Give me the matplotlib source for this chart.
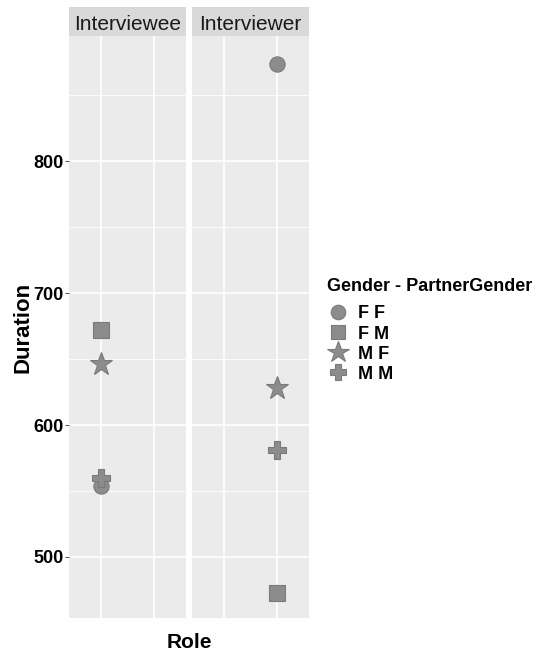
import numpy as np
import matplotlib
matplotlib.use('Agg')
import matplotlib.pyplot as plt
from matplotlib.lines import Line2D
from matplotlib.patches import Rectangle

plt.rcParams['font.family'] = ['Liberation Sans', 'DejaVu Sans']

# ---------- data ----------
roles = ['Interviewee', 'Interviewer']
groups = ['F F', 'F M', 'M F', 'M M']
interviewee_duration = [554, 672, 646, 560]
interviewer_duration = [874, 473, 628, 581]
y_ticks = [500, 600, 700, 800]
y_minor = [450, 550, 650, 750, 850]

markers = ['o', 's', '*', 'P']
msizes = [11, 11, 17, 12.5]
pt_color = '#8c8c8c'
edge_color = '#7a7a7a'

W, H = 540, 656
fig = plt.figure(figsize=(W / 100, H / 100), dpi=100)
fig.patch.set_facecolor('white')


def px_axes(x0, y0, x1, y1):
    return fig.add_axes([x0 / W, 1 - y1 / H, (x1 - x0) / W, (y1 - y0) / H])


panel_x = [(69, 186), (192, 309)]
panel_top, panel_bot, strip_top = 36, 618, 7
values = [interviewee_duration, interviewer_duration]

for i, role in enumerate(roles):
    x0, x1 = panel_x[i]
    ax = px_axes(x0, panel_top, x1, panel_bot)
    ax.set_facecolor('#ebebeb')
    ax.set_xlim(0.4, 2.6)
    ax.set_ylim(453.7, 894.9)
    for y in y_minor:
        ax.axhline(y, color='white', lw=0.6, zorder=0)
    for y in y_ticks:
        ax.axhline(y, color='white', lw=1.2, zorder=0)
    for x in [1, 2]:
        ax.axvline(x, color='white', lw=1.2, zorder=0)
    for g, dur in enumerate(values[i]):
        ax.plot(i + 1, dur, marker=markers[g], ms=msizes[g], color=pt_color,
                mec=edge_color, mew=0.8, ls='none', zorder=3)
    for s in ax.spines.values():
        s.set_visible(False)
    ax.set_xticks([])
    ax.set_yticks(y_ticks)
    if i == 0:
        ax.set_yticklabels([str(v) for v in y_ticks], fontsize=13,
                           fontweight='bold', color='black')
        ax.tick_params(axis='y', length=3, width=0.6, color='#333333', pad=1)
        ax.set_ylabel('Duration', fontsize=16, fontweight='bold', labelpad=0)
    else:
        ax.tick_params(axis='y', length=0, labelleft=False)

    # facet strip
    sax = px_axes(x0, strip_top, x1, panel_top)
    sax.set_axis_off()
    sax.add_patch(Rectangle((0, 0), 1, 1, transform=sax.transAxes,
                            color='#d9d9d9'))
    sax.text(0.5, 0.4, role, ha='center', va='center', fontsize=15,
             color='#1a1a1a', transform=sax.transAxes)

fig.text(189 / W, 1 - 642 / H, 'Role', ha='center', va='center',
         fontsize=15, fontweight='bold')

handles = [Line2D([], [], marker=markers[g], ms=msizes[g] * 0.95, color=pt_color,
                  mec=edge_color, mew=0.8, ls='none') for g in range(len(groups))]
leg = fig.legend(handles, groups, loc='upper left',
                 bbox_to_anchor=(313 / W, 1 - 264 / H), frameon=False,
                 title='Gender - PartnerGender', alignment='left',
                 prop={'size': 13, 'weight': 'bold'},
                 title_fontproperties={'size': 13, 'weight': 'bold'},
                 handlelength=1.2, handletextpad=0.5, labelspacing=0.17,
                 borderpad=0.3)
leg._legend_box.sep = 7.2  # extra gap under the legend title

fig.savefig('out.png', dpi=100, facecolor='white')
